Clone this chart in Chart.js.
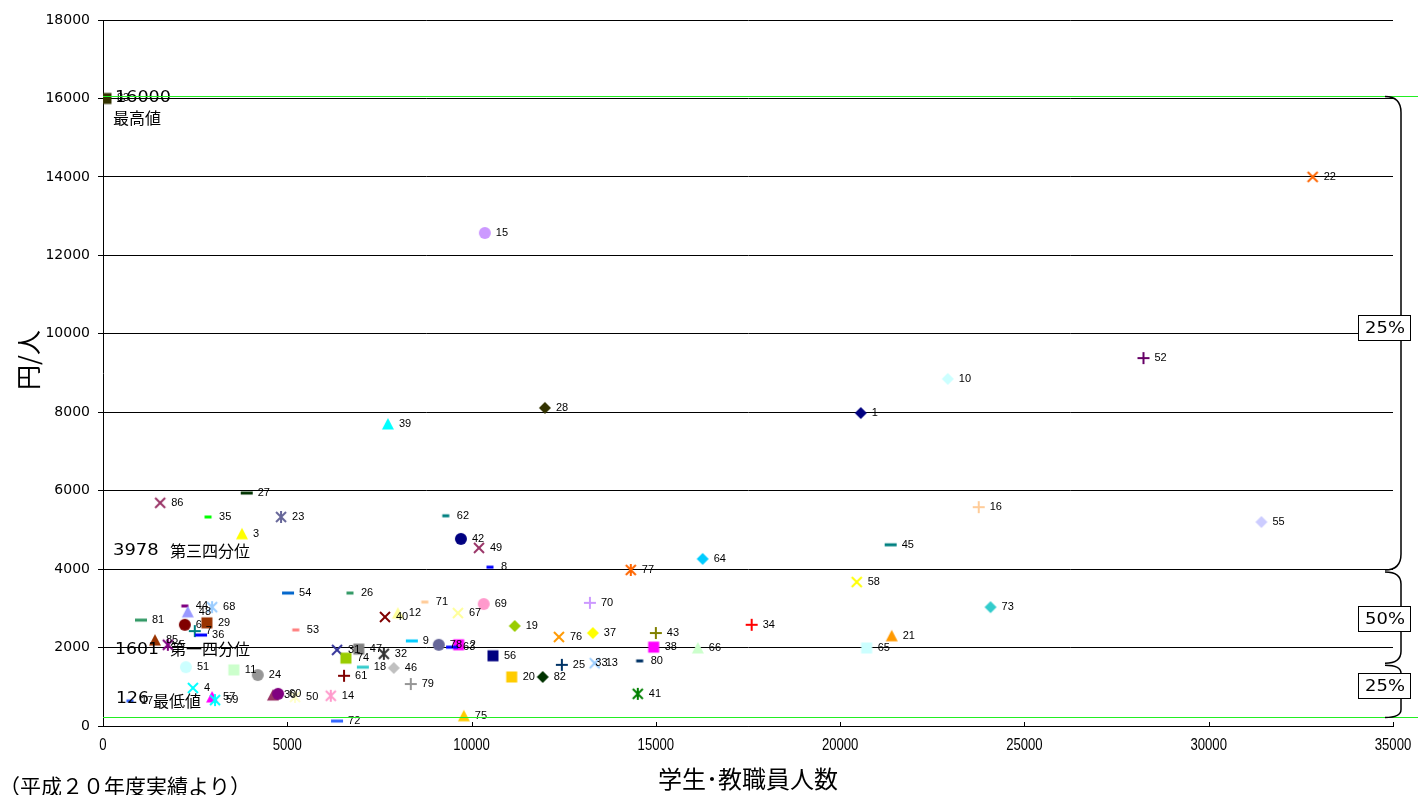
<!DOCTYPE html>
<html>
<head>
<meta charset="utf-8">
<script src="https://cdn.jsdelivr.net/npm/chart.js@4.4.1/dist/chart.umd.min.js"></script>
<style>
  html, body { margin: 0; padding: 0; background: #fff; }
  #wrap { width: 1418px; height: 795px; position: relative; }
</style>
</head>
<body>
<div id="wrap"><canvas id="chart" width="1418" height="795"></canvas></div>
<script>
// Institution numbers (point labels), in series order
const pointLabels = [
  '1','2','3','4','5','6','7','8','9','10',
  '11','12','13','14','15','16','17','18','19','20',
  '21','22','23','24','25','26','27','28','29','30',
  '31','32','33','34','35','36','37','38','39','40',
  '41','42','43','44','45','46','47','48','49','50',
  '51','52','53','54','55','56','57','58','59','60',
  '61','62','63','64','65','66','67','68','69','70',
  '71','72','73','74','75','76','77','78','79','80',
  '81','82','83','85','86'
];

// 学生・教職員人数
const headcount = [
  20560, 9650, 3770, 2440, 1760, 2220, 2490, 10500, 8380, 22920,
  3550, 8000, 13340, 6180, 10360, 23760, 730, 7050, 11170, 11090,
  21400, 32820, 4830, 4200, 12450, 6700, 3900, 11990, 2820, 4610,
  6350, 7620, 13060, 17600, 2850, 2660, 13290, 14940, 7730, 7650,
  14510, 9710, 15000, 2220, 21370, 7890, 6940, 2300, 10200, 5210,
  2250, 28230, 5230, 5020, 31430, 10580, 2960, 20450, 3040, 4750,
  6540, 9300, 9470, 16270, 20720, 16140, 9630, 2960, 10330, 13210,
  8730, 6350, 24080, 6590, 9790, 12370, 14320, 9110, 8350, 14560,
  1030, 11930, 80, 1410, 1550
];

// 円/人
const yenPerPerson = [
  7980, 2070, 4900, 970, 2070, 2580, 2420, 4050, 2170, 8850,
  1430, 2880, 1601, 770, 12570, 5580, 640, 1500, 2550, 1250,
  2300, 14000, 5330, 1300, 1560, 3390, 5940, 8110, 2630, 790,
  1940, 1840, 1610, 2580, 5330, 2320, 2370, 2010, 7700, 2780,
  820, 4770, 2370, 3060, 4620, 1480, 1960, 2910, 4540, 740,
  1500, 9380, 2450, 3390, 5200, 1790, 740, 3670, 660, 820,
  1280, 5360, 2010, 4260, 1990, 1990, 2880, 3030, 3110, 3140,
  3160, 126, 3030, 1730, 260, 2270, 3978, 2070, 1070, 1660,
  2700, 1250, 16000, 2190, 5690
];

// Axis ticks
const xTicks = [0, 5000, 10000, 15000, 20000, 25000, 30000, 35000];
const yTicks = [0, 2000, 4000, 6000, 8000, 10000, 12000, 14000, 16000, 18000];

// Summary statistics
const maxValue = 16000;
const q3Value = 3978;
const q1Value = 1601;
const minValue = 126;
const lowerBandLevel = 240;

// Series colour / marker cycle
const seriesColors = [
  '#000080','#FF00FF','#FFFF00','#00FFFF','#800080','#800000','#008080','#0000FF',
  '#00CCFF','#CCFFFF','#CCFFCC','#FFFF99','#99CCFF','#FF99CC','#CC99FF','#FFCC99',
  '#3366FF','#33CCCC','#99CC00','#FFCC00','#FF9900','#FF6600','#666699','#969696',
  '#003366','#339966','#003300','#333300','#993300','#993366','#333399','#333333',
  '#FFFFFF','#FF0000','#00FF00','#0000FF','#FFFF00','#FF00FF','#00FFFF','#800000',
  '#008000','#000080','#808000','#800080','#008080','#C0C0C0','#808080','#9999FF',
  '#993366','#FFFFCC','#CCFFFF','#660066','#FF8080','#0066CC','#CCCCFF',
  '#000080','#FF00FF','#FFFF00','#00FFFF','#800080','#800000','#008080','#0000FF',
  '#00CCFF','#CCFFFF','#CCFFCC','#FFFF99','#99CCFF','#FF99CC','#CC99FF','#FFCC99',
  '#3366FF','#33CCCC','#99CC00','#FFCC00','#FF9900','#FF6600','#666699','#969696',
  '#003366','#339966','#003300','#333300','#993300','#993366'
];
const markerCycle = ['diamond','square','triangle','x','star','circle','plus','dashS','dashL'];

function makeMarker(kind, color) {
  const s = 16, m = 8;
  const c = document.createElement('canvas');
  c.width = s; c.height = s;
  const g = c.getContext('2d');
  g.fillStyle = color; g.strokeStyle = color; g.lineWidth = 2; g.lineCap = 'butt';
  const line = (x1, y1, x2, y2) => { g.beginPath(); g.moveTo(x1, y1); g.lineTo(x2, y2); g.stroke(); };
  switch (kind) {
    case 'square': g.fillRect(m - 5.5, m - 5.5, 11, 11); break;
    case 'diamond':
      g.beginPath(); g.moveTo(m, m - 6); g.lineTo(m + 6, m); g.lineTo(m, m + 6); g.lineTo(m - 6, m);
      g.closePath(); g.fill(); break;
    case 'triangle':
      g.beginPath(); g.moveTo(m, m - 6); g.lineTo(m + 6, m + 5.5); g.lineTo(m - 6, m + 5.5);
      g.closePath(); g.fill(); break;
    case 'circle': g.beginPath(); g.arc(m, m, 6, 0, Math.PI * 2); g.fill(); break;
    case 'x': line(m - 5, m - 5, m + 5, m + 5); line(m + 5, m - 5, m - 5, m + 5); break;
    case 'plus': line(m - 6, m, m + 6, m); line(m, m - 6, m, m + 6); break;
    case 'star':
      line(m - 5, m - 5, m + 5, m + 5); line(m + 5, m - 5, m - 5, m + 5); line(m, m - 6, m, m + 6); break;
    case 'dashL': g.fillRect(m - 6, m - 1.5, 12, 3); break;
    case 'dashS': g.fillRect(m - 3.5, m - 1.5, 7, 3); break;
  }
  return c;
}

const markerImages = pointLabels.map((_, i) => makeMarker(markerCycle[i % markerCycle.length], seriesColors[i]));
const points = headcount.map((x, i) => ({ x: x, y: yenPerPerson[i] }));

const CJK = '"Noto Sans CJK JP", "Noto Sans CJK SC", sans-serif';

function stretchedText(ctx, text, x, y, font, sx, align) {
  ctx.save();
  ctx.font = font;
  ctx.textBaseline = 'middle';
  ctx.textAlign = align || 'left';
  ctx.translate(x, y);
  ctx.scale(sx, 1);
  ctx.fillText(text, 0, 0);
  ctx.restore();
}

const decorations = {
  id: 'decorations',
  beforeDatasetsDraw(chart) {
    const { ctx, chartArea } = chart;
    const xs = chart.scales.x;
    // inward tick marks on the x axis
    ctx.save();
    ctx.strokeStyle = '#000'; ctx.lineWidth = 1;
    xTicks.forEach(v => {
      const px = Math.round(xs.getPixelForValue(v)) + 0.5;
      ctx.beginPath(); ctx.moveTo(px, chartArea.bottom); ctx.lineTo(px, chartArea.bottom - 4); ctx.stroke();
    });
    ctx.restore();
  },
  afterDatasetsDraw(chart) {
    const { ctx } = chart;
    const meta = chart.getDatasetMeta(0);
    ctx.save();
    ctx.fillStyle = '#000';
    ctx.font = '11px "Liberation Sans", Arial, sans-serif';
    ctx.textBaseline = 'middle';
    ctx.textAlign = 'left';
    meta.data.forEach((el, i) => {
      ctx.fillText(pointLabels[i], el.x + 11, el.y);
    });
    ctx.restore();
  },
  afterDraw(chart) {
    const { ctx, chartArea } = chart;
    const xs = chart.scales.x, ys = chart.scales.y;
    ctx.save();
    ctx.fillStyle = '#000';

    // tick labels
    yTicks.forEach(v => {
      stretchedText(ctx, String(v), 90, ys.getPixelForValue(v), '14px "DejaVu Sans", sans-serif', 1, 'right');
    });
    xTicks.forEach(v => {
      stretchedText(ctx, String(v), xs.getPixelForValue(v), 746, '16px "Liberation Sans", Arial, sans-serif', 0.82, 'center');
    });

    // axis titles and note
    ctx.save();
    ctx.translate(28, 360);
    ctx.rotate(-Math.PI / 2);
    ctx.font = '25px ' + CJK;
    ctx.textAlign = 'center'; ctx.textBaseline = 'middle';
    ctx.fillText('円/人', 0, 0);
    ctx.restore();
    stretchedText(ctx, '学生･教職員人数', 748, 779, '24px ' + CJK, 1, 'center');
    stretchedText(ctx, '（平成２０年度実績より）', -1, 786, '21px ' + CJK, 1, 'left');

    // summary text boxes
    const numFont = '16px "DejaVu Sans", sans-serif';
    const jpFont = '16px ' + CJK;
    const yMax = ys.getPixelForValue(maxValue);
    const yQ3 = ys.getPixelForValue(q3Value);
    const yQ1 = ys.getPixelForValue(q1Value);
    const yMin = ys.getPixelForValue(minValue);
    stretchedText(ctx, String(maxValue), 115, yMax - 1, numFont, 1.1, 'left');
    stretchedText(ctx, '最高値', 113, yMax + 19, jpFont, 1, 'left');
    stretchedText(ctx, String(q3Value), 113, yQ3 - 19, numFont, 1.12, 'left');
    stretchedText(ctx, '第三四分位', 170, yQ3 - 19, jpFont, 1, 'left');
    stretchedText(ctx, String(q1Value), 115, yQ1 - 13, numFont, 1.08, 'left');
    stretchedText(ctx, '第一四分位', 170, yQ1 - 14, jpFont, 1, 'left');
    stretchedText(ctx, String(minValue), 116, yMin - 22, numFont, 1.08, 'left');
    stretchedText(ctx, '最低値', 153, yMin - 20, jpFont, 1, 'left');

    // band lines for the maximum and lower limit
    const yTop = Math.round(yMax) - 1.5;
    const yLow = Math.round(ys.getPixelForValue(lowerBandLevel)) + 0.5;
    ctx.strokeStyle = '#22EE22'; ctx.lineWidth = 1.2;
    [yTop, yLow].forEach(py => {
      ctx.beginPath(); ctx.moveTo(chartArea.left, py); ctx.lineTo(chart.width, py); ctx.stroke();
    });

    // brackets grouping the quartile ranges
    const xEnd = 1385, xSpine = 1401;
    const bracket = (t, b, r) => {
      ctx.beginPath();
      ctx.moveTo(xEnd, t);
      ctx.quadraticCurveTo(xSpine, t, xSpine, t + r);
      ctx.lineTo(xSpine, b - r);
      ctx.quadraticCurveTo(xSpine, b, xEnd, b);
      ctx.stroke();
    };
    ctx.strokeStyle = '#000'; ctx.lineWidth = 1.5;
    bracket(yTop, yQ3, 16);
    bracket(yQ3 + 2, yQ1, 12);
    bracket(yQ1 + 2, yLow, 8);

    const box = (label, cy) => {
      const bx = 1358, bw = 52, bh = 25;
      ctx.fillStyle = '#fff';
      ctx.fillRect(bx, cy - bh / 2, bw, bh);
      ctx.strokeStyle = '#000'; ctx.lineWidth = 1;
      ctx.strokeRect(bx + 0.5, Math.round(cy - bh / 2) + 0.5, bw, bh);
      ctx.fillStyle = '#000';
      stretchedText(ctx, label, bx + bw / 2 + 1, cy + 1, '16px "DejaVu Sans", sans-serif', 1.12, 'center');
    };
    box('25%', ys.getPixelForValue(10150));
    box('50%', ys.getPixelForValue(2740));
    box('25%', ys.getPixelForValue(1030));

    ctx.restore();
  }
};

new Chart(document.getElementById('chart'), {
  type: 'scatter',
  data: {
    datasets: [{
      data: points,
      pointStyle: markerImages,
      pointRadius: 6,
      showLine: false
    }]
  },
  options: {
    responsive: false,
    animation: false,
    events: [],
    devicePixelRatio: 1,
    layout: { padding: { top: 20, right: 25, left: 0, bottom: 0 } },
    plugins: { legend: { display: false }, tooltip: { enabled: false } },
    scales: {
      x: {
        type: 'linear', min: 0, max: 35000,
        ticks: { stepSize: 5000, display: false },
        grid: { display: false },
        border: { display: true, color: '#000', width: 1 },
        afterFit(s) { s.height = 69; }
      },
      y: {
        type: 'linear', min: 0, max: 18000,
        ticks: { stepSize: 2000, display: false },
        grid: { color: '#000', lineWidth: 1, drawTicks: true, tickLength: 5 },
        border: { display: true, color: '#000', width: 1 },
        afterFit(s) { s.width = 103; }
      }
    }
  },
  plugins: [decorations]
});
</script>
</body>
</html>
